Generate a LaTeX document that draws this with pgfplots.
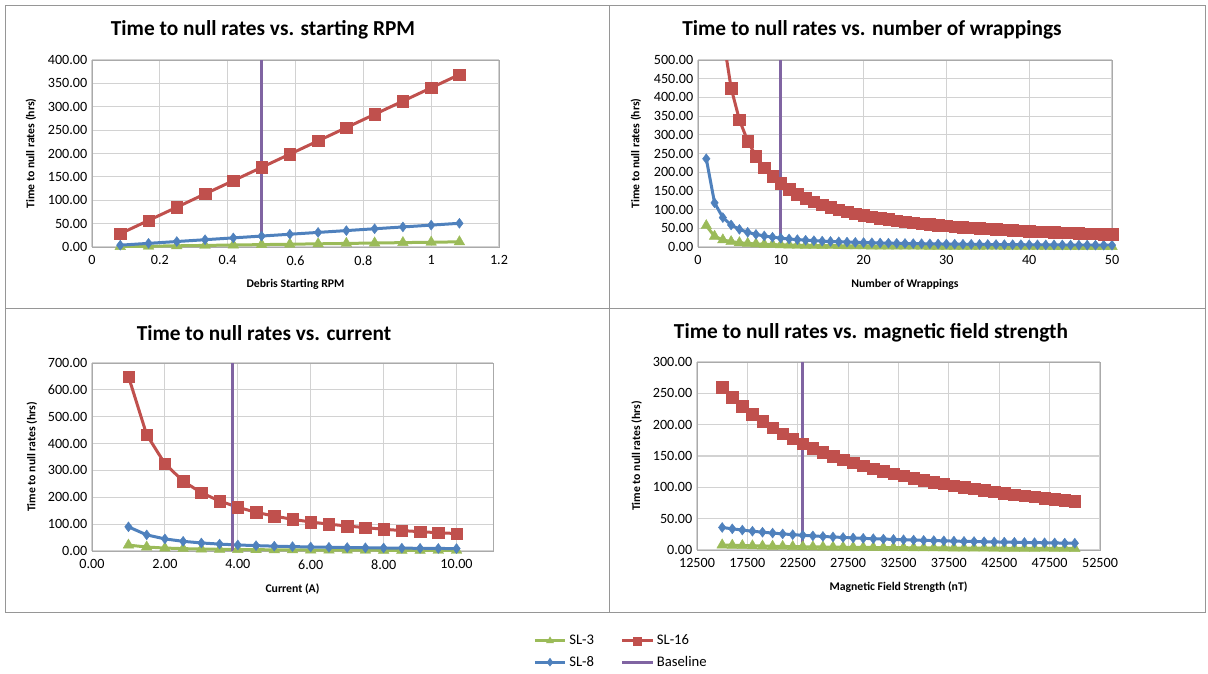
\documentclass[border=0pt]{standalone}
\usepackage{pgfplots}
\pgfplotsset{compat=1.18}
\usepackage{pgfplotstable}
\usepackage{fontspec}
\setmainfont{Carlito}
\definecolor{slgreen}{RGB}{155,187,89}
\definecolor{slblue}{RGB}{79,129,189}
\definecolor{slred}{RGB}{192,80,77}
\definecolor{slpurple}{RGB}{128,100,162}
\definecolor{gridc}{RGB}{210,210,210}
\definecolor{framec}{RGB}{170,170,170}
\definecolor{boxc}{RGB}{150,150,150}

\pgfplotstableread{
n sl3 sl8 sl16
1 57 236 1700
2 28.5 118 850
3 19 78.7 566.7
4 14.3 59 425
5 11.4 47.2 340
6 9.5 39.3 283.3
7 8.1 33.7 242.9
8 7.1 29.5 212.5
9 6.3 26.2 188.9
10 5.7 23.6 170
11 5.2 21.5 154.5
12 4.8 19.7 141.7
13 4.4 18.2 130.8
14 4.1 16.9 121.4
15 3.8 15.7 113.3
16 3.6 14.8 106.3
17 3.4 13.9 100
18 3.2 13.1 94.4
19 3.0 12.4 89.5
20 2.9 11.8 85
21 2.7 11.2 81.0
22 2.6 10.7 77.3
23 2.5 10.3 73.9
24 2.4 9.8 70.8
25 2.3 9.4 68
26 2.2 9.1 65.4
27 2.1 8.7 63.0
28 2.0 8.4 60.7
29 2.0 8.1 58.6
30 1.9 7.9 56.7
31 1.8 7.6 54.8
32 1.8 7.4 53.1
33 1.7 7.2 51.5
34 1.7 6.9 50
35 1.6 6.7 48.6
36 1.6 6.6 47.2
37 1.5 6.4 45.9
38 1.5 6.2 44.7
39 1.5 6.1 43.6
40 1.4 5.9 42.5
41 1.4 5.8 41.5
42 1.4 5.6 40.5
43 1.3 5.5 39.5
44 1.3 5.4 38.6
45 1.3 5.2 37.8
46 1.2 5.1 37.0
47 1.2 5.0 36.2
48 1.2 4.9 35.4
49 1.2 4.8 34.7
50 1.1 4.7 34
}\wraptab

\pgfplotstableread{
I sl3 sl8 sl16
1 22 90 650
1.5 14.7 60 433
2 11 45 325
2.5 8.8 36 260
3 7.3 30 217
3.5 6.3 25.7 186
4 5.5 22.5 163
4.5 4.9 20 144
5 4.4 18 130
5.5 4.0 16.4 118
6 3.7 15 108
6.5 3.4 13.8 100
7 3.1 12.9 93
7.5 2.9 12 87
8 2.75 11.25 81
8.5 2.6 10.6 76
9 2.4 10 72
9.5 2.3 9.5 68
10 2.2 9 65
}\curtab

\pgfplotstableread{
B sl3 sl8 sl16
15000 8.00 36.0 260.0
16000 7.50 33.8 243.8
17000 7.06 31.8 229.4
18000 6.67 30.0 216.7
19000 6.32 28.4 205.3
20000 6.00 27.0 195.0
21000 5.71 25.7 185.7
22000 5.45 24.5 177.3
23000 5.22 23.5 169.6
24000 5.00 22.5 162.5
25000 4.80 21.6 156.0
26000 4.62 20.8 150.0
27000 4.44 20.0 144.4
28000 4.29 19.3 139.3
29000 4.14 18.6 134.5
30000 4.00 18.0 130.0
31000 3.87 17.4 125.8
32000 3.75 16.9 121.9
33000 3.64 16.4 118.2
34000 3.53 15.9 114.7
35000 3.43 15.4 111.4
36000 3.33 15.0 108.3
37000 3.24 14.6 105.4
38000 3.16 14.2 102.6
39000 3.08 13.8 100.0
40000 3.00 13.5 97.5
41000 2.93 13.2 95.1
42000 2.86 12.9 92.9
43000 2.79 12.6 90.7
44000 2.73 12.3 88.6
45000 2.67 12.0 86.7
46000 2.61 11.7 84.8
47000 2.55 11.5 83.0
48000 2.50 11.3 81.3
49000 2.45 11.0 79.6
50000 2.40 10.8 78.0
}\magtab

\pgfplotsset{
  panel/.style={
    scale only axis,
    anchor=south west,
    grid=major,
    grid style={draw=gridc, line width=0.8pt},
    axis line style={draw=framec, line width=0.6pt},
    major tick length=0pt,
    tick style={draw=none},
    scaled ticks=false,
    /pgf/number format/assume math mode=true,
    ticklabel style={font=\fontsize{10.6}{12}\selectfont},
    yticklabel style={/pgf/number format/fixed, /pgf/number format/fixed zerofill, /pgf/number format/precision=2},
    xticklabel style={yshift=-3pt},
    ylabel={Time to null rates (hrs)},
    ylabel style={font=\bfseries\fontsize{8.8}{10}\selectfont, at={(axis description cs:-0.15,0.5)}, anchor=center},
    xlabel style={font=\bfseries\fontsize{8.8}{10}\selectfont, at={(axis description cs:0.5,-0.2)}, anchor=center},
    ymin=0,
    clip marker paths=false,
  },
  sl3/.style={color=slgreen, line width=2.25pt, mark=triangle*, mark size=4.6pt, mark options={solid, line width=0.3pt}},
  sl8/.style={color=slblue, line width=2.25pt, mark=diamond*, mark size=3.75pt, mark options={solid, line width=0.3pt}},
  sl16/.style={color=slred, line width=2.25pt, mark=square*, mark size=4.3pt, mark options={solid, line width=0.3pt}},
  base/.style={color=slpurple, line width=2.25pt, no marks},
}
\tikzset{ttl/.style={font=\bfseries\fontsize{16}{18}\selectfont, anchor=center}}

\begin{document}
\begin{tikzpicture}
\path (0pt,0pt) rectangle (906pt,504.75pt);
\draw[boxc, line width=0.75pt] (3.75pt,45.75pt) rectangle (903.75pt,500.25pt);
\draw[boxc, line width=0.75pt] (456.75pt,45.75pt) -- (456.75pt,500.25pt);
\draw[boxc, line width=0.75pt] (3.75pt,273pt) -- (903.75pt,273pt);

\node[ttl] at (197.25pt,482.25pt) {Time to null rates vs. starting RPM};
\node[ttl] at (654pt,482.25pt) {Time to null rates vs. number of wrappings};
\node[ttl] at (198pt,255pt) {Time to null rates vs. current};
\node[ttl] at (653.25pt,255pt) {Time to null rates vs. magnetic field strength};

% Panel 1
\begin{axis}[panel, at={(69pt,319.5pt)}, width=305.25pt, height=140.25pt,
  xmin=0, xmax=1.2, xtick={0,0.2,...,1.2}, ymax=400, ytick={0,50,...,400},
  xlabel={Debris Starting RPM}]
\addplot[sl3] coordinates {(0.0833,0.85)(0.1667,1.7)(0.25,2.55)(0.3333,3.4)(0.4167,4.25)(0.5,5.1)(0.5833,5.95)(0.6667,6.8)(0.75,7.65)(0.8333,8.5)(0.9167,9.35)(1,10.2)(1.0833,11.05)};
\addplot[sl8] coordinates {(0.0833,3.9)(0.1667,7.8)(0.25,11.7)(0.3333,15.6)(0.4167,19.5)(0.5,23.4)(0.5833,27.3)(0.6667,31.2)(0.75,35.1)(0.8333,39.0)(0.9167,42.9)(1,46.8)(1.0833,50.7)};
\addplot[sl16] coordinates {(0.0833,28.4)(0.1667,56.8)(0.25,85.1)(0.3333,113.5)(0.4167,141.9)(0.5,170.3)(0.5833,198.6)(0.6667,227.0)(0.75,255.4)(0.8333,283.8)(0.9167,312.1)(1,340.5)(1.0833,368.9)};
\addplot[base] coordinates {(0.5,0)(0.5,400)};
\end{axis}

% Panel 2
\begin{axis}[panel, at={(523.5pt,319.5pt)}, width=310.5pt, height=140.25pt,
  xmin=0, xmax=50, xtick={0,10,...,50}, ymax=500, ytick={0,50,...,500},
  xlabel={Number of Wrappings}]
\addplot[sl3] table[x=n, y=sl3] {\wraptab};
\addplot[sl8] table[x=n, y=sl8] {\wraptab};
\addplot[sl16] table[x=n, y=sl16] {\wraptab};
\addplot[base] coordinates {(10,0)(10,500)};
\end{axis}

% Panel 3
\begin{axis}[panel, at={(69pt,91.5pt)}, width=300.75pt, height=141pt,
  xmin=0, xmax=11, xtick={0,2,...,10}, ymax=700, ytick={0,100,...,700},
  xticklabel style={/pgf/number format/fixed, /pgf/number format/fixed zerofill, /pgf/number format/precision=2},
  xlabel={Current (A)},
  legend columns=2,
  legend cell align=left,
  legend style={at={(axis description cs:1.32,-0.535)}, anchor=center, draw=none, fill=none,
    font=\fontsize{11}{13}\selectfont, row sep=3pt,
    /tikz/every even column/.append style={column sep=18pt}},
  legend image code/.code={\draw[mark repeat=2,mark phase=2, mark size=3pt] plot coordinates {(0cm,0cm) (0.4cm,0cm) (0.8cm,0cm)};}]
\addplot[sl3, forget plot] table[x=I, y=sl3] {\curtab};
\addplot[sl8, forget plot] table[x=I, y=sl8] {\curtab};
\addplot[sl16, forget plot] table[x=I, y=sl16] {\curtab};
\addplot[base, forget plot] coordinates {(3.85,0)(3.85,700)};
\addlegendimage{sl3}
\addlegendentry{SL-3}
\addlegendimage{sl16}
\addlegendentry{SL-16}
\addlegendimage{sl8}
\addlegendentry{SL-8}
\addlegendimage{base}
\addlegendentry{Baseline}
\end{axis}

% Panel 4
\begin{axis}[panel, at={(522.75pt,92.25pt)}, width=302.25pt, height=141pt,
  xmin=12500, xmax=52500, xtick={12500,17500,...,52500}, ymax=300, ytick={0,50,...,300},
  xticklabel style={/pgf/number format/1000 sep={}},
  xlabel={Magnetic Field Strength (nT)}]
\addplot[sl3] table[x=B, y=sl3] {\magtab};
\addplot[sl8] table[x=B, y=sl8] {\magtab};
\addplot[sl16] table[x=B, y=sl16] {\magtab};
\addplot[base] coordinates {(23000,0)(23000,300)};
\end{axis}
\end{tikzpicture}
\end{document}
